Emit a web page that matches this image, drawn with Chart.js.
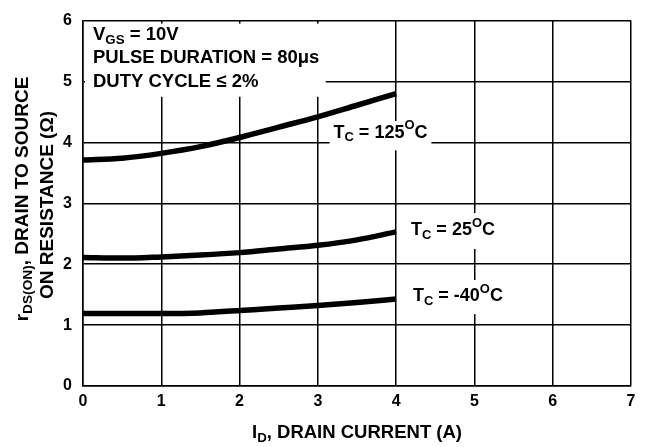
<!DOCTYPE html>
<html>
<head>
<meta charset="utf-8">
<script src="https://cdn.jsdelivr.net/npm/chart.js@4"></script>
<style>
  html, body { margin: 0; padding: 0; background: #fff; }
  #wrap { width: 654px; height: 447px; }
</style>
</head>
<body>
<div id="wrap"><canvas id="chart" width="654" height="447"></canvas></div>
<script>
// Drain current (A) sample points
const currentA = [0, 0.5, 1, 1.5, 2, 2.5, 3, 3.5, 4];

// rDS(ON) in ohms
const r125 = [3.71, 3.74, 3.82, 3.93, 4.08, 4.25, 4.42, 4.61, 4.80];
const r25 = [2.11, 2.10, 2.12, 2.15, 2.19, 2.25, 2.31, 2.40, 2.53];
const rMinus40 = [1.19, 1.19, 1.19, 1.20, 1.24, 1.28, 1.32, 1.37, 1.43];

const xTicks = [0, 1, 2, 3, 4, 5, 6, 7];
const yTicks = [0, 1, 2, 3, 4, 5, 6];

const FONT = '"Liberation Sans", Arial, sans-serif';

function toPoints(ys) {
    return currentA.map((x, i) => ({ x: x, y: ys[i] }));
}

// draw text made of pieces with sub/superscripts
function richText(ctx, x, y, parts, size) {
    let cx = x;
    parts.forEach(p => {
        const s = p.small ? size * 0.72 : size;
        ctx.font = 'bold ' + s + 'px ' + FONT;
        const dy = p.sub ? size * 0.22 : (p.sup ? -size * 0.45 : 0);
        ctx.fillText(p.t, cx, y + dy);
        cx += ctx.measureText(p.t).width;
    });
    return cx - x;
}

function textWidth(ctx, parts, size) {
    let w = 0;
    parts.forEach(p => {
        ctx.font = 'bold ' + (p.small ? size * 0.72 : size) + 'px ' + FONT;
        w += ctx.measureText(p.t).width;
    });
    return w;
}

function tcLabel(temp) {
    return [
        { t: 'T' }, { t: 'C', sub: true, small: true },
        { t: ' = ' + temp }, { t: 'O', sup: true, small: true }, { t: 'C' }
    ];
}

const overlayPlugin = {
    id: 'overlay',
    afterDatasetsDraw(chart) {
        const ctx = chart.ctx;
        const xs = chart.scales.x;
        const ys = chart.scales.y;
        const px = v => xs.getPixelForValue(v);
        const py = v => ys.getPixelForValue(v);
        ctx.save();

        // white boxes behind the notes
        ctx.fillStyle = '#fff';
        ctx.fillRect(xs.left + 2, ys.top + 3, px(3.1) - xs.left - 2, py(4.75) - ys.top - 3);
        ctx.fillRect(px(3.15), py(4.35), px(4.45) - px(3.15), py(3.87) - py(4.35));
        ctx.fillRect(px(4.1), py(2.84), px(5.4) - px(4.1), py(2.25) - py(2.84));
        ctx.fillRect(px(4.1), py(1.74), px(5.5) - px(4.1), py(1.18) - py(1.74));

        ctx.fillStyle = '#000';
        ctx.textBaseline = 'alphabetic';
        ctx.textAlign = 'left';

        // conditions note
        const nx = xs.left + 10;
        richText(ctx, nx, ys.top + 19, [{ t: 'V' }, { t: 'GS', sub: true, small: true }, { t: ' = 10V' }], 18.5);
        richText(ctx, nx, ys.top + 42, [{ t: 'PULSE DURATION = 80\u03bcs' }], 18.5);
        richText(ctx, nx, ys.top + 66, [{ t: 'DUTY CYCLE \u2264 2%' }], 18.5);

        // curve labels
        richText(ctx, px(3.2), py(4.08), tcLabel('125'), 18);
        richText(ctx, px(4.19), py(2.48), tcLabel('25'), 18);
        richText(ctx, px(4.215), py(1.39), tcLabel('-40'), 18);

        // x axis title
        const xParts = [{ t: 'I' }, { t: 'D', sub: true, small: true }, { t: ', DRAIN CURRENT (A)' }];
        richText(ctx, (xs.left + xs.right) / 2 - textWidth(ctx, xParts, 18.5) / 2, 438, xParts, 18.5);

        // y axis title, two rotated lines
        const line1 = [{ t: 'r' }, { t: 'DS(ON)', sub: true, small: true }, { t: ', DRAIN TO SOURCE' }];
        const line2 = [{ t: 'ON RESISTANCE (\u03a9)' }];
        ctx.save();
        ctx.translate(28, 199);
        ctx.rotate(-Math.PI / 2);
        richText(ctx, -textWidth(ctx, line1, 19) / 2, 0, line1, 19);
        ctx.restore();
        ctx.save();
        ctx.translate(53, 205);
        ctx.rotate(-Math.PI / 2);
        richText(ctx, -textWidth(ctx, line2, 19) / 2, 0, line2, 19);
        ctx.restore();

        ctx.restore();
    }
};

const lineStyle = {
    borderColor: '#000',
    borderWidth: 5.5,
    pointRadius: 0,
    fill: false,
    cubicInterpolationMode: 'monotone'
};

new Chart(document.getElementById('chart'), {
    type: 'line',
    data: {
        datasets: [
            Object.assign({ label: 'TC = 125C', data: toPoints(r125) }, lineStyle),
            Object.assign({ label: 'TC = 25C', data: toPoints(r25) }, lineStyle),
            Object.assign({ label: 'TC = -40C', data: toPoints(rMinus40) }, lineStyle)
        ]
    },
    options: {
        responsive: false,
        animation: false,
        layout: { padding: { left: 0, top: 14, right: 23, bottom: 0 } },
        plugins: { legend: { display: false }, tooltip: { enabled: false } },
        scales: {
            x: {
                type: 'linear',
                min: 0,
                max: 7,
                afterBuildTicks: (s) => { s.ticks = xTicks.map(v => ({ value: v })); },
                afterFit: (s) => { s.height = 61; },
                grid: { color: '#000', lineWidth: 1.5, drawTicks: false },
                border: { color: '#000', width: 1.5 },
                ticks: { color: '#000', padding: 6, font: { family: FONT, size: 16, weight: 'bold' } }
            },
            y: {
                type: 'linear',
                min: 0,
                max: 6,
                afterBuildTicks: (s) => { s.ticks = yTicks.map(v => ({ value: v })); },
                afterFit: (s) => { s.width = 83; },
                grid: { color: '#000', lineWidth: 1.5, drawTicks: false },
                border: { color: '#000', width: 1.5 },
                ticks: { color: '#000', padding: 11, font: { family: FONT, size: 16, weight: 'bold' } }
            }
        }
    },
    plugins: [overlayPlugin]
});
</script>
</body>
</html>
